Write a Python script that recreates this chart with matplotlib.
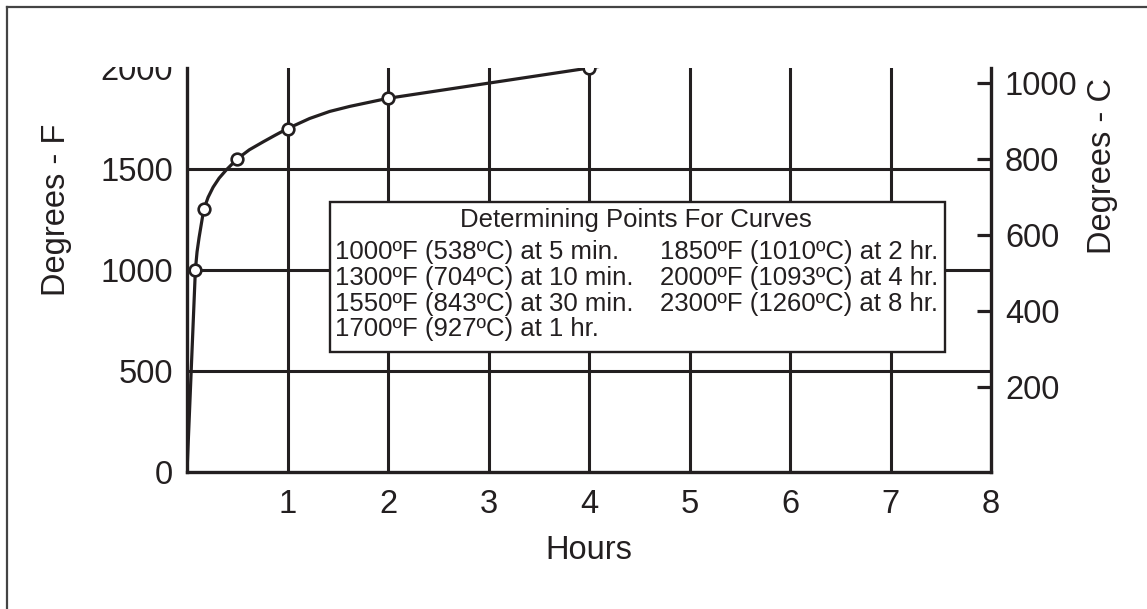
import matplotlib
matplotlib.use("Agg")
import matplotlib.pyplot as plt
from matplotlib.patches import Rectangle
from matplotlib.lines import Line2D

plt.rcParams['font.family'] = ['Liberation Sans', 'DejaVu Sans']

# ---- data ----
curve_hours = [0, 0.0833, 0.1, 0.12, 0.1667, 0.21, 0.26, 0.32, 0.39, 0.5, 0.62, 0.76, 0.88,
               1.0, 1.22, 1.42, 1.62, 2.0, 4.0, 8.0]
curve_F = [0, 1000, 1090, 1160, 1300, 1360, 1410, 1455, 1495, 1550, 1595, 1635, 1668,
           1700, 1750, 1785, 1810, 1850, 2000, 2300]
mark_hours = [0.0833, 0.1667, 0.5, 1.0, 2.0, 4.0, 8.0]
mark_F = [1000, 1300, 1550, 1700, 1850, 2000, 2300]
x_ticks = [1, 2, 3, 4, 5, 6, 7, 8]
yF_ticks = [0, 500, 1000, 1500, 2000]
yC_ticks = [200, 400, 600, 800, 1000]
box_title = "Determining Points For Curves"
box_left = ["1000ºF (538ºC) at 5 min.", "1300ºF (704ºC) at 10 min.",
            "1550ºF (843ºC) at 30 min.", "1700ºF (927ºC) at 1 hr."]
box_right = ["1850ºF (1010ºC) at 2 hr.", "2000ºF (1093ºC) at 4 hr.",
             "2300ºF (1260ºC) at 8 hr."]

INK = '#231f20'
W, H = 1147, 609
fig = plt.figure(figsize=(W / 100, H / 100), dpi=100)

# axes pixel geometry
L, R, T, B = 187, 991, 68, 472
ax = fig.add_axes([L / W, 1 - B / H, (R - L) / W, (B - T) / H])

def ax_xy(px, py):
    return ((px - L) / (R - L), (B - py) / (B - T))

ax.set_xlim(0, 8)
ax.set_ylim(0, 2000)
ax.set_xticks(x_ticks)
ax.set_yticks(yF_ticks)
ax.tick_params(axis='both', length=0, labelsize=23.5, colors=INK)
ax.tick_params(axis='x', pad=12)
ax.tick_params(axis='y', pad=10)

for v in x_ticks[:-1]:
    ax.axvline(v, color=INK, lw=2.2, zorder=1)
for v in [500, 1000, 1500]:
    ax.axhline(v, color=INK, lw=2.2, zorder=1)

for s in ['left', 'bottom', 'right']:
    ax.spines[s].set_linewidth(2.4)
    ax.spines[s].set_color(INK)
ax.spines['top'].set_visible(False)

ax.plot(curve_hours, curve_F, color=INK, lw=2.3, zorder=4, solid_joinstyle='round')
ax.plot(mark_hours, mark_F, ls='none', marker='o', ms=8.4, mfc='white',
        mec=INK, mew=1.9, zorder=5)

ax.set_xlabel("Hours", fontsize=23.5, color=INK)
ax.xaxis.set_label_coords(0.5, ax_xy(0, 535)[1])
ax.set_ylabel("Degrees - F", fontsize=23.5, color=INK)
ax.yaxis.set_label_coords(ax_xy(57, 0)[0], ax_xy(0, 210)[1])
ax.yaxis.label.set_va('center')

# Celsius axis
ax2 = ax.twinx()
c_per_px = 1 / 0.38
ax2.set_ylim(-(B - 463) * c_per_px, (463 - T) * c_per_px)
ax2.set_yticks(yC_ticks)
ax2.tick_params(axis='y', direction='in', length=10, width=2.3, colors=INK,
                labelsize=23.5, pad=10)
for s in ax2.spines.values():
    s.set_visible(False)
ax2.set_ylabel("Degrees - C", fontsize=23.5, color=INK, rotation=90)
ax2.yaxis.set_label_coords(ax_xy(1103, 0)[0], ax_xy(0, 166)[1])
ax2.yaxis.label.set_va('center')

# box of determining points
bx0, by0 = ax_xy(330, 352)
bx1, by1 = ax_xy(945, 202)
ax2.add_patch(Rectangle((bx0, by0), bx1 - bx0, by1 - by0, transform=ax.transAxes,
                        facecolor='white', edgecolor=INK, lw=1.7, zorder=6,
                        clip_on=False))
tfs = 18.5
tx, ty = ax_xy(636, 227)
ax2.text(tx, ty, box_title, transform=ax.transAxes, ha='center', va='baseline',
         fontsize=tfs, color=INK, zorder=7)
base = [259.3, 285.0, 310.7, 336.4]
for i, s in enumerate(box_left):
    x, y = ax_xy(335, base[i])
    ax2.text(x, y, s, transform=ax.transAxes, ha='left', va='baseline',
             fontsize=tfs, color=INK, zorder=7)
for i, s in enumerate(box_right):
    x, y = ax_xy(938, base[i])
    ax2.text(x, y, s, transform=ax.transAxes, ha='right', va='baseline',
             fontsize=tfs, color=INK, zorder=7)

# clip the top tick label like the reference
fig.patches.append(Rectangle((20 / W, 1 - (T - 1) / H), 160 / W, (T - 21) / H,
                             transform=fig.transFigure, facecolor='white',
                             edgecolor='none', zorder=10))

# outer frame (left and top edges)
fig.add_artist(Line2D([7 / W, 7 / W], [0, 1 - 6.5 / H], transform=fig.transFigure,
                      color='#444444', lw=1.6))
fig.add_artist(Line2D([7 / W, 1], [1 - 6.5 / H, 1 - 6.5 / H], transform=fig.transFigure,
                      color='#444444', lw=1.6))

fig.savefig("out.png", dpi=100)
